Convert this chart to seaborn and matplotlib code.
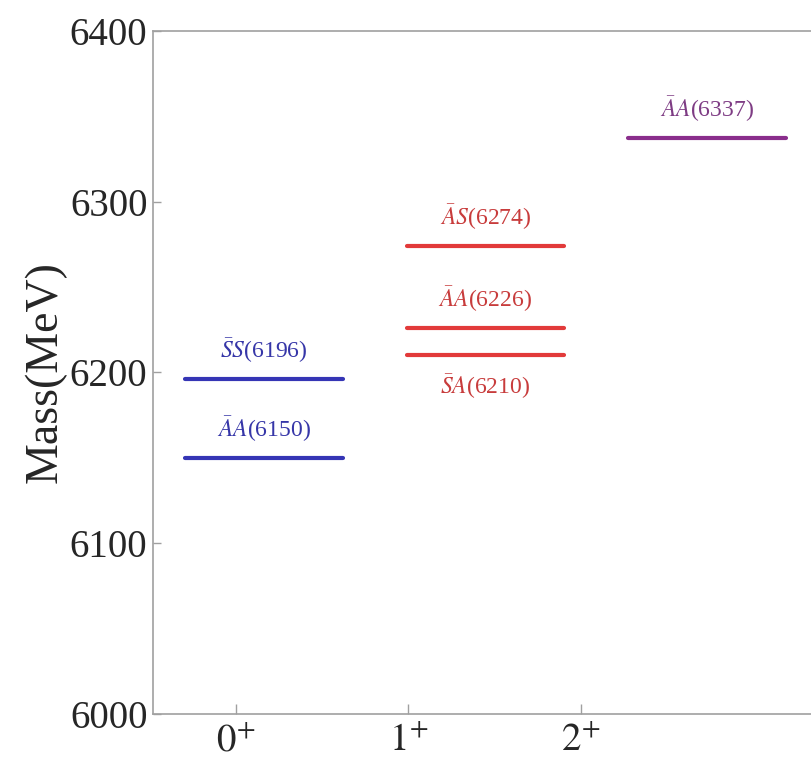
import matplotlib
matplotlib.use("Agg")
import matplotlib.pyplot as plt
import seaborn as sns
import pandas as pd

# ---- data ----
states = ["0+", "0+", "1+", "1+", "1+", "2+"]
state_index = [1, 1, 2, 2, 2, 3]
configs = [r"$\bar{S}S$", r"$\bar{A}A$", r"$\bar{A}S$", r"$\bar{A}A$", r"$\bar{S}A$", r"$\bar{A}A$"]
masses = [6196, 6150, 6274, 6226, 6210, 6337]
label_side = ["above", "above", "above", "above", "below", "above"]
state_colors = {"0+": "#3535b5", "1+": "#e23a3a", "2+": "#8a2e8c"}
text_colors = {"0+": "#3636a8", "1+": "#c83c3c", "2+": "#7e3c84"}
tick_labels = [r"$0^{+}$", r"$1^{+}$", r"$2^{+}$"]
yticks = [6000, 6100, 6200, 6300, 6400]

sns.set_theme(style="white")
plt.rcParams["font.family"] = ["Liberation Serif", "DejaVu Serif"]
plt.rcParams["mathtext.fontset"] = "stix"

fig = plt.figure(figsize=(8.12, 7.71), dpi=100)
ax = fig.add_axes([153 / 812, 57 / 771, 665 / 812, 683.3 / 771])

half = 0.356
rows = []
for i, (s, xi, m) in enumerate(zip(states, state_index, masses)):
    rows.append({"level": i, "state": s, "x": xi - half, "mass": m})
    rows.append({"level": i, "state": s, "x": xi + half, "mass": m})
df = pd.DataFrame(rows)

sns.lineplot(data=df, x="x", y="mass", hue="state", units="level",
             estimator=None, palette=state_colors, linewidth=3.0,
             legend=False, ax=ax)

for s, xi, c, m, side in zip(states, state_index, configs, masses, label_side):
    txt = f"{c}({m})"
    if side == "above":
        ax.annotate(txt, (xi, m), xytext=(0, 10), textcoords="offset points",
                    ha="center", va="bottom", fontsize=17, color=text_colors[s])
    else:
        ax.annotate(txt, (xi, m), xytext=(0, -12), textcoords="offset points",
                    ha="center", va="top", fontsize=17, color=text_colors[s])

ax.set_xlim(0.5, 3.5)
ax.set_ylim(6000, 6400)
ax.set_xticks([0.874, 1.652, 2.43])
ax.set_xticklabels(tick_labels, fontsize=28)
ax.set_yticks(yticks)
ax.set_yticklabels([str(v) for v in yticks], fontsize=28)
ax.set_xlabel("")
ax.set_ylabel("Mass(MeV)", fontsize=33, labelpad=2)

for sp in ["left", "bottom", "top", "right"]:
    ax.spines[sp].set_visible(True)
    ax.spines[sp].set_color("#a0a0a0")
    ax.spines[sp].set_linewidth(1.2)
ax.tick_params(axis="y", direction="in", length=6, width=1, color="#a0a0a0", left=True, pad=4)
ax.tick_params(axis="x", direction="in", length=7, width=1, color="#a0a0a0", bottom=True, pad=6)

fig.savefig("out.png", dpi=100)
